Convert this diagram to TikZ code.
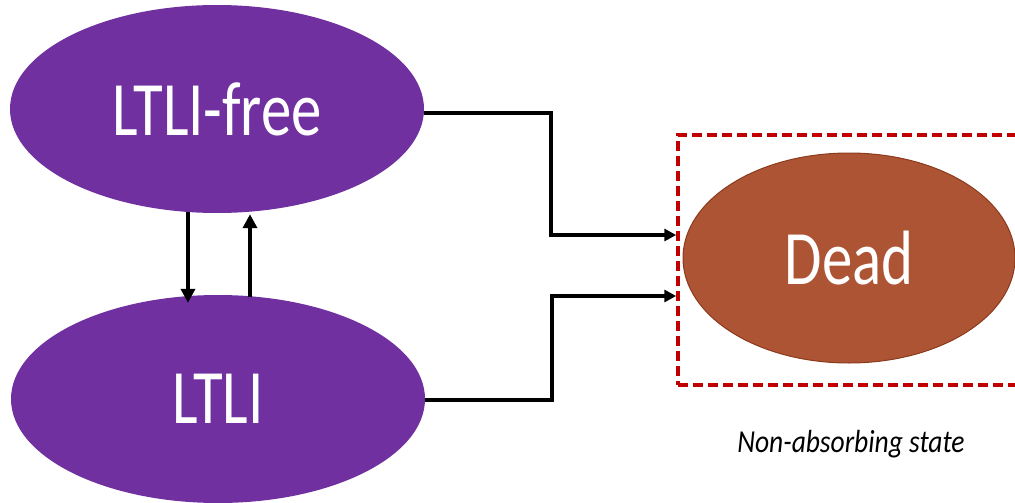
\documentclass[tikz,border=0pt]{standalone}
\usepackage{fontspec}
\setmainfont{Carlito}
\usetikzlibrary{shapes.geometric,arrows.meta,calc}

\definecolor{statepurple}{RGB}{112,48,160}
\definecolor{deadfill}{RGB}{173,84,52}
\definecolor{deadedge}{RGB}{140,58,28}
\definecolor{boxred}{RGB}{192,0,0}

\tikzset{
  state/.style={ellipse, fill=statepurple, inner sep=0pt,
    minimum width=414pt, minimum height=208pt, text=white},
  bigtext/.style={font=\fontsize{77}{80}\selectfont},
  conn/.style={line width=4pt, -{Triangle[length=14pt,width=14pt]}},
  elbow/.style={line width=3.5pt, -{Triangle[length=12pt,width=12pt]}},
  regionbox/.style={draw=boxred, line width=3.5pt, dash pattern=on 10pt off 5pt,
    minimum width=352pt, minimum height=250pt, inner sep=0pt},
}

\newcommand{\narrow}[1]{\scalebox{0.79}[1]{#1}}

\begin{document}
\begin{tikzpicture}[x=1pt, y=-1pt]
  \useasboundingbox (0,0) rectangle (1015,503);
  \clip (0,0) rectangle (1015,503);

  % states
  \node[state, bigtext] (free) at (217,109) {\narrow{LTLI-free}};
  \node[state, bigtext] (ltli) at (218,399) {\narrow{LTLI}};

  % dashed region around the dead state
  \node[regionbox] (region) at (854,260) {};
  \node[ellipse, fill=deadfill, draw=deadedge, line width=1pt, inner sep=0pt,
        minimum width=332pt, minimum height=210pt, text=white, bigtext]
        (dead) at (849,258) {\narrow{Dead}};
  \node[font=\itshape\fontsize{32}{36}\selectfont] (label) at (851,444)
        {\scalebox{0.86}[1]{Non-absorbing state}};

  % entry points on the region border
  \coordinate (inTop) at ($(region.west)+(0,25pt)$);
  \coordinate (inBot) at ($(region.west)+(0,-36pt)$);

  % transitions into the dead state
  \draw[elbow] ([yshift=-4pt]free.east) -- ++(127pt,0) |- (inTop);
  \draw[elbow] ([yshift=-1pt]ltli.east) -- ++(127pt,0) |- (inBot);

  % transitions between the two living states
  \draw[conn] ([xshift=-29pt,yshift=1pt]free.south) -- ([xshift=-30pt,yshift=-8pt]ltli.north);
  \draw[conn] ([xshift=32pt,yshift=-2pt]ltli.north) -- ([xshift=33pt,yshift=-1pt]free.south);
\end{tikzpicture}
\end{document}
